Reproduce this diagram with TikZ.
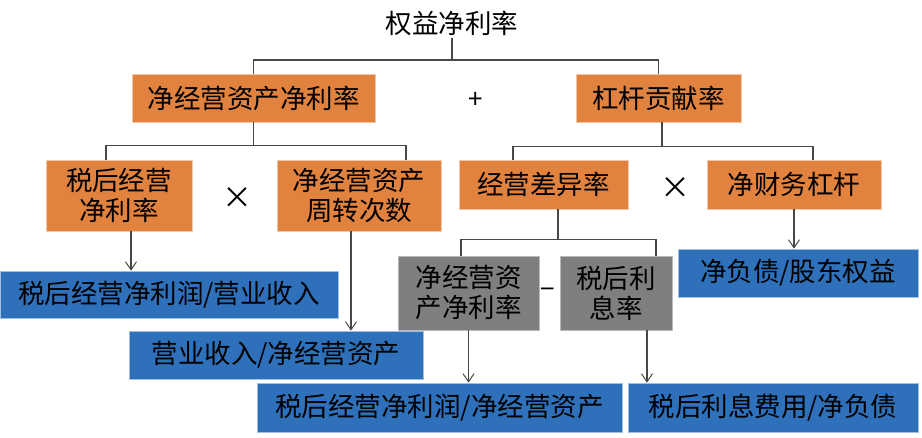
\documentclass[tikz,border=0pt]{standalone}
\usepackage{fontspec}
\setmainfont{Noto Sans CJK SC}
\usetikzlibrary{arrows.meta}
\definecolor{boxorange}{HTML}{E1833F}
\definecolor{boxblue}{HTML}{2E70BA}
\definecolor{boxgray}{HTML}{7F7F7F}
\definecolor{linegray}{HTML}{474747}
\tikzset{
  base/.style={inner sep=0pt, align=center, font=\fontsize{26.5}{30}\selectfont, line width=0.8pt},
  obox/.style={base, fill=boxorange, draw=boxorange!45!white},
  bbox/.style={base, fill=boxblue, draw=boxblue!45!white},
  gbox/.style={base, fill=boxgray, draw=boxgray!55!white},
  conn/.style={draw=linegray, line width=1.2pt},
  arr/.style={conn, -{Straight Barb[length=8pt,width=11pt,line width=1pt]}},
  op/.style={inner sep=0pt}
}
\begin{document}
\begin{tikzpicture}[x=1pt,y=-1pt]
\useasboundingbox (0,0) rectangle (922,438);
% title
\node[base, inner sep=2pt] (T) at (452,23) {权益净利率};
% level 1
\node[obox, minimum width=243, minimum height=48] (A) at (253.5,98) {净经营资产净利率};
\node[obox, minimum width=165, minimum height=48] (B) at (658.5,98) {杠杆贡献率};
\node[op, font=\fontsize{26}{26}\selectfont] (plus) at (476,100) {+};
% level 2
\node[obox, minimum width=146, minimum height=71] (C) at (119,195.5) {税后经营\\净利率};
\node[obox, minimum width=164, minimum height=71] (D) at (359,195.5) {净经营资产\\周转次数};
\node[op, font=\fontsize{30}{30}\selectfont] (x1) at (237,198) {×};
\node[obox, minimum width=169, minimum height=49] (E) at (543.5,184.5) {经营差异率};
\node[obox, minimum width=174, minimum height=49] (F) at (794,184.5) {净财务杠杆};
\node[op, font=\fontsize{30}{30}\selectfont] (x2) at (675,188) {×};
% level 3 gray
\node[gbox, minimum width=141, minimum height=74] (G) at (468.5,293) {净经营资\\产净利率};
\node[gbox, minimum width=112, minimum height=74] (H) at (616,293) {税后利\\息率};
\node[op, font=\fontsize{26}{26}\selectfont] (minus) at (548,293) {−};
% blue boxes
\node[bbox, minimum width=338, minimum height=47] (I) at (169,294.5) {税后经营净利润/营业收入};
\node[bbox, minimum width=294, minimum height=48] (J) at (276,355) {营业收入/净经营资产};
\node[bbox, minimum width=365, minimum height=49] (K) at (439.5,407.5) {税后经营净利润/净经营资产};
\node[bbox, minimum width=290, minimum height=49] (L) at (773,407.5) {税后利息费用/净负债};
\node[bbox, minimum width=240, minimum height=48] (M) at (798,273) {净负债/股东权益};
% tree connectors
\draw[conn] (T.south) -- (T.south |- 0,60) coordinate (t1);
\draw[conn] (A.north) |- (t1) -| (B.north);
\draw[conn] (A.south) -- ++(0,23) coordinate (a1);
\draw[conn] ([xshift=-13pt]C.north) |- (a1) -| ([xshift=47pt]D.north);
\draw[conn] ([xshift=3.5pt]B.south) -- ++(0,24) coordinate (b1);
\draw[conn] ([xshift=-30.5pt]E.north) |- (b1) -| ([xshift=19pt]F.north);
\draw[conn] ([xshift=14.5pt]E.south) -- ++(0,30) coordinate (e1);
\draw[conn] ([xshift=-7.5pt]G.north) |- (e1) -| ([xshift=40pt]H.north);
% arrows
\draw[arr] ([xshift=12pt]C.south) -- ([xshift=12pt]C.south |- I.north);
\draw[arr] ([xshift=-8pt]D.south) -- ([xshift=-8pt]D.south |- J.north);
\draw[arr] (G.south) -- (G.south |- K.north);
\draw[arr] ([xshift=31pt]H.south) -- ([xshift=31pt]H.south |- L.north);
\draw[arr] (F.south) -- (F.south |- M.north);
\end{tikzpicture}
\end{document}
